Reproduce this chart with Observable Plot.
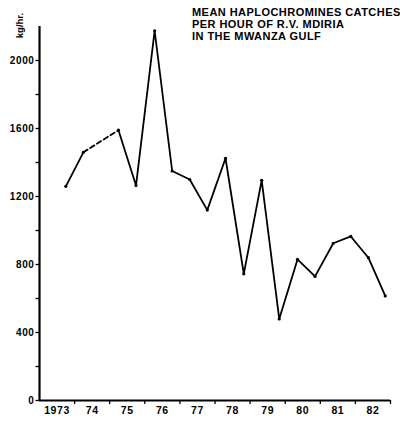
<!DOCTYPE html>
<html><head><meta charset="utf-8">
<script src="https://cdn.jsdelivr.net/npm/d3@7"></script>
<script src="https://cdn.jsdelivr.net/npm/@observablehq/plot@0.6"></script>
<style>
body{margin:0;background:#fff;}
#wrap{position:relative;width:400px;height:423px;}
#wrap svg{position:absolute;left:0;top:0;z-index:0;}
#wrap svg text{letter-spacing:0.6px;}
#title{position:absolute;z-index:2;left:192px;top:6px;font:bold 11px "Liberation Sans",Arial,sans-serif;letter-spacing:0.45px;line-height:12px;color:#000;white-space:nowrap;}
#ylab{position:absolute;z-index:2;left:-1px;top:20px;width:40px;text-align:center;font:bold 9.5px "Liberation Sans",Arial,sans-serif;transform:rotate(-90deg);transform-origin:center;color:#000;}
</style>
</head><body><div id="wrap"><div id="title">MEAN HAPLOCHROMINES CATCHES<br>PER HOUR OF R.V. MDIRIA<br>IN THE MWANZA GULF</div><div id="ylab">kg/hr.</div></div>
<script>
// half-year sampling periods (decimal years) and mean catch (kg/hr)
const periods = [1973.75, 1974.25, 1975.25, 1975.75, 1976.28, 1976.78, 1977.28, 1977.78, 1978.3, 1978.82, 1979.33, 1979.83, 1980.35, 1980.85, 1981.37, 1981.87, 1982.37, 1982.85];
const catches = [1260, 1460, 1590, 1265, 2175, 1350, 1300, 1120, 1425, 745, 1295, 480, 830, 730, 925, 965, 840, 615];
// segment grouping: gap (dashed) between the 2nd and 3rd observations
const segment = ["a","a","b","b","b","b","b","b","b","b","b","b","b","b","b","b","b","b"];
const dashedIdx = [1, 2];
const yLabelTicks = [0, 400, 800, 1200, 1600, 2000];
const yMinorTicks = [200, 600, 1000, 1400, 1800];
const yearBounds = [1974, 1975, 1976, 1977, 1978, 1979, 1980, 1981, 1982, 1983];
const yearMids = [1973.5, 1974.5, 1975.5, 1976.5, 1977.5, 1978.5, 1979.5, 1980.5, 1981.5, 1982.5];
const yearLabels = ["1973", "74", "75", "76", "77", "78", "79", "80", "81", "82"];

const data = periods.map((p, i) => ({x: p, y: catches[i], seg: segment[i]}));
const dashed = dashedIdx.map(i => data[i]);

const chart = Plot.plot({
  width: 400,
  height: 423,
  marginLeft: 39,
  marginRight: 10,
  marginTop: 26,
  marginBottom: 23,
  style: {fontFamily: "'Liberation Sans', Arial, sans-serif", color: "#000", background: "transparent"},
  x: {domain: [1973, 1983]},
  y: {domain: [0, 2200]},
  marks: [
    Plot.axisY({ticks: yLabelTicks, tickSize: 3.5, tickPadding: 1.5, fontSize: 10, fontWeight: "bold", tickFormat: d => String(d), label: null, strokeWidth: 1.3}),
    Plot.axisY({ticks: yMinorTicks, tickSize: 3.5, tickFormat: () => "", label: null, strokeWidth: 1.3}),
    Plot.axisX({ticks: yearBounds, tickSize: 4, tickFormat: () => "", label: null, strokeWidth: 1.3}),
    Plot.axisX({ticks: yearMids, tickSize: 0, tickPadding: 6, fontSize: 10.5, fontWeight: "bold", tickFormat: (d, i) => yearLabels[i], label: null}),
    Plot.ruleX([1973], {strokeWidth: 2.2}),
    Plot.ruleY([0], {strokeWidth: 2.2}),
    Plot.line(data, {x: "x", y: "y", z: "seg", stroke: "#000", strokeWidth: 1.8}),
    Plot.line(dashed, {x: "x", y: "y", stroke: "#000", strokeWidth: 1.8, strokeDasharray: "5,3"}),
    Plot.dot(data, {x: "x", y: "y", r: 1.6, fill: "#000"})
  ]
});
document.getElementById("wrap").prepend(chart);
</script>
</body></html>
